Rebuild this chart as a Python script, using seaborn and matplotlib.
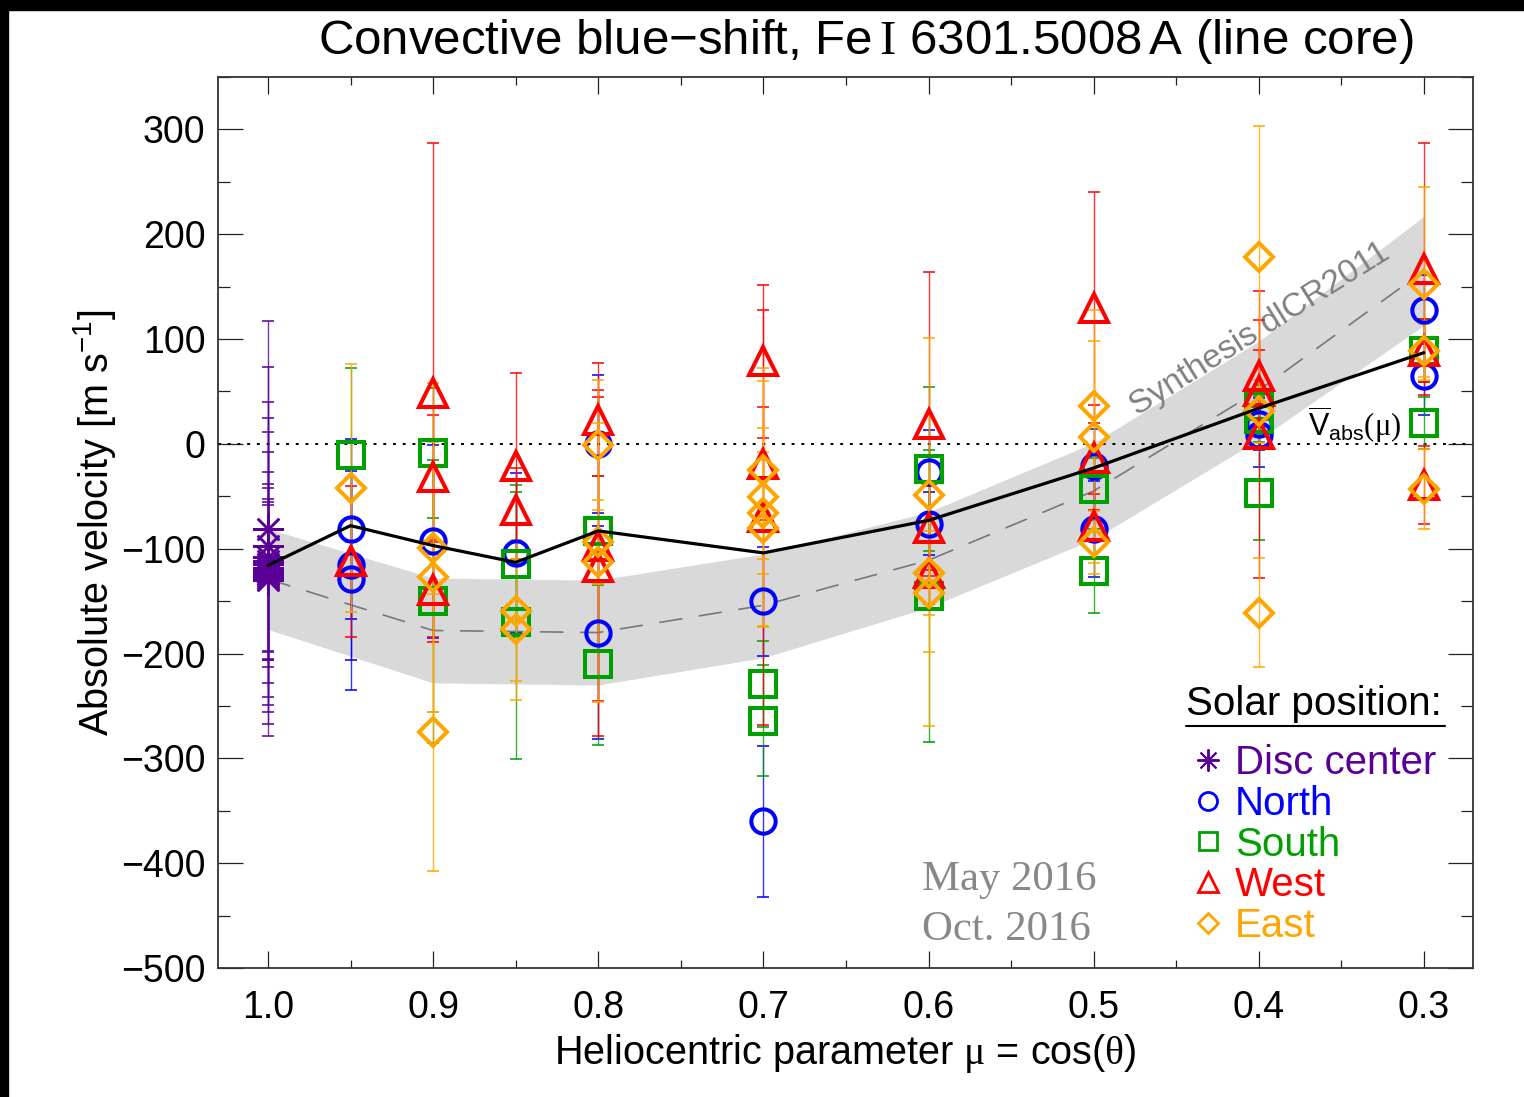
import numpy as np
import pandas as pd
import matplotlib
matplotlib.use("Agg")
import matplotlib.pyplot as plt
import seaborn as sns
from matplotlib.lines import Line2D
from matplotlib.patches import Rectangle
from matplotlib.ticker import MultipleLocator

# ---------------------------------------------------------------------------
# Line-core velocities (m/s) of Fe I 6301.5008 A per heliocentric position
# ---------------------------------------------------------------------------
disc_mu = [1.0] * 12
disc_v = [-81, -97, -108, -112, -115, -118, -120, -122, -124, -126, -128, -130]
disc_err = [198, 170, 148, 137, 126, 110, 93, 84, 82, 73, 70, 75]

north_mu = [0.95, 0.95, 0.95, 0.9, 0.85, 0.8, 0.8, 0.7, 0.7, 0.6, 0.6, 0.5, 0.5, 0.4, 0.4, 0.3, 0.3]
north_v = [-81, -116, -129, -93, -104, 0, -180, -150, -360, -27, -76, -21, -81, 19, 8, 128, 65]
north_err = [86, 90, 106, 92, 76, 66, 102, 52, 72, 40, 30, 35, 46, 25, 30, 33, 37]

south_mu = [0.95, 0.9, 0.9, 0.85, 0.85, 0.8, 0.8, 0.7, 0.7, 0.6, 0.6, 0.5, 0.5, 0.4, 0.4, 0.4, 0.3, 0.3]
south_v = [-11, -9, -150, -115, -170, -83, -210, -229, -264, -24, -145, -43, -121, 36, 24, -47, 89, 20]
south_err = [83, 62, 135, 69, 131, 52, 77, 41, 53, 78, 139, 30, 40, 20, 22, 45, 30, 25]

west_mu = [0.95, 0.9, 0.9, 0.9, 0.85, 0.85, 0.8, 0.8, 0.8, 0.7, 0.7, 0.7,
           0.6, 0.6, 0.6, 0.5, 0.5, 0.5, 0.4, 0.4, 0.4, 0.3, 0.3, 0.3]
west_v = [-112, 49, -32, -139, -21, -63, 23, -97, -117, 79, -19, -70,
          19, -80, -123, 130, -13, -78, 65, 50, 9, 167, 89, -39]
west_err = [72, 238, 60, 45, 89, 40, 54, 148, 162, 73, 54, 198,
            145, 40, 30, 110, 50, 30, 53, 40, 137, 120, 30, 37]

east_mu = [0.95, 0.9, 0.9, 0.9, 0.85, 0.85, 0.8, 0.8, 0.8, 0.7, 0.7, 0.7, 0.7,
           0.6, 0.6, 0.6, 0.5, 0.5, 0.5, 0.4, 0.4, 0.4, 0.3, 0.3, 0.3]
east_v = [-42, -99, -127, -275, -159, -177, -1, -94, -113, -25, -51, -66, -80,
          -49, -123, -142, 36, 7, -94, 178, 31, -161, 153, 89, -43]
east_err = [118, 157, 129, 132, 67, 67, 62, 40, 133, 85, 123, 58, 95,
            150, 40, 127, 62, 121, 30, 125, 30, 52, 92, 25, 38]

# Mean observed curve
mean_mu = [1.0, 0.95, 0.9, 0.85, 0.8, 0.7, 0.6, 0.5, 0.4, 0.3]
mean_v = [-116, -78, -97, -113, -83, -104, -73, -23, 34, 87]

# Synthesis (dlCR2011) with its uncertainty band
syn_mu = [1.0, 0.9, 0.8, 0.7, 0.6, 0.5, 0.4, 0.3]
syn_v = [-129, -178, -180, -154, -111, -45, 51, 165]
syn_lo = [-177, -228, -230, -204, -156, -91, 4, 113]
syn_hi = [-81, -128, -130, -105, -65, 1, 98, 217]

positions = ["Disc center", "North", "South", "West", "East"]
colors = ["#5a0099", "#0000ff", "#00a000", "#ff0000", "#ffa500"]

frames = []
for name, mu, v, e in [("Disc center", disc_mu, disc_v, disc_err),
                       ("North", north_mu, north_v, north_err),
                       ("South", south_mu, south_v, south_err),
                       ("West", west_mu, west_v, west_err),
                       ("East", east_mu, east_v, east_err)]:
    frames.append(pd.DataFrame({"position": name, "mu": mu, "v": v, "err": e}))
obs = pd.concat(frames, ignore_index=True)
mean_df = pd.DataFrame({"mu": mean_mu, "v": mean_v})
syn_df = pd.DataFrame({"mu": syn_mu, "v": syn_v, "lo": syn_lo, "hi": syn_hi})

# ---------------------------------------------------------------------------
sns.set_theme(style="ticks")
plt.rcParams["font.family"] = ["Liberation Sans", "DejaVu Sans"]
plt.rcParams["mathtext.fontset"] = "custom"
plt.rcParams["mathtext.rm"] = "Liberation Sans"
plt.rcParams["mathtext.it"] = "Liberation Sans:italic"
plt.rcParams["mathtext.sf"] = "Liberation Sans"
plt.rcParams["mathtext.tt"] = "Liberation Serif"
for key in ["text.color", "axes.labelcolor", "xtick.color", "ytick.color"]:
    plt.rcParams[key] = "black"

fig = plt.figure(figsize=(15.24, 10.97), dpi=100, facecolor="white")
ax = fig.add_axes([0.1430, 0.1176, 0.8235, 0.8122])
ax.set_facecolor("white")

# synthesis band and its centre line
ax.fill_between(syn_df["mu"], syn_df["lo"], syn_df["hi"], color="#d9d9d9", lw=0, zorder=1)
sns.lineplot(data=syn_df, x="mu", y="v", ax=ax, color="#777777", lw=1.2,
             dashes=False, zorder=2, estimator=None, sort=False)
ax.lines[-1].set_dashes([14, 10])

# zero line
ax.axhline(0, color="black", lw=1.4, ls=(0, (1.5, 3.5)), zorder=2)

marker_style = {
    "Disc center": dict(marker=(8, 2, 0), ms=22, mew=1.8),
    "North": dict(marker="o", ms=17.5, mew=2.9),
    "South": dict(marker="s", ms=18.5, mew=2.9),
    "West": dict(marker="^", ms=20, mew=2.9),
    "East": dict(marker="D", ms=14, mew=2.9),
}

for name, col in zip(positions, colors):
    d = obs[obs["position"] == name]
    ax.errorbar(d["mu"], d["v"], yerr=d["err"], fmt="none", ecolor=col,
                elinewidth=1.0, capsize=4.6, capthick=1.4, alpha=0.8, zorder=3)
for name, col in zip(positions, colors):
    d = obs[obs["position"] == name]
    ax.plot(d["mu"], d["v"], ls="none", mfc="none", mec=col, zorder=4,
            **marker_style[name])

# mean observed curve
sns.lineplot(data=mean_df, x="mu", y="v", ax=ax, color="black", lw=2.3,
             zorder=5, estimator=None, sort=False)

# axes ranges and ticks
ax.set_xlim(1.0303, 0.2703)
ax.set_ylim(-500, 350)
ax.set_xticks([1.0, 0.9, 0.8, 0.7, 0.6, 0.5, 0.4, 0.3])
ax.set_xticklabels(["1.0", "0.9", "0.8", "0.7", "0.6", "0.5", "0.4", "0.3"])
ax.set_yticks(np.arange(-500, 301, 100))
ax.xaxis.set_minor_locator(MultipleLocator(0.05))
ax.yaxis.set_minor_locator(MultipleLocator(50))
ax.tick_params(which="both", direction="in", top=True, right=True, width=0.9, color="#222222")
ax.tick_params(axis="x", which="major", length=12, pad=16, labelsize=27)
ax.tick_params(axis="x", which="minor", length=6)
ax.tick_params(axis="y", which="major", length=18, pad=9, labelsize=27)
ax.tick_params(axis="y", which="minor", length=8.6)
for sp in ax.spines.values():
    sp.set_color("#333333")
    sp.set_linewidth(1.3)

ax.set_xlabel(r"Heliocentric parameter $\mathtt{\mu}$ = cos($\mathtt{\theta}$)", fontsize=28.5, labelpad=4)
ax.set_ylabel(r"Absolute velocity [m s$^{-1}$]", fontsize=28.5, labelpad=2)
fig.text(866 / 1524, 1 - 42 / 1097,
         r"Convective blue$-$shift, Fe$\,\mathtt{I}$ 6301.5008$\,$A (line core)",
         fontsize=35.5, ha="center", va="center")

# annotations
ax.text(0.3993, 109, "Synthesis dlCR2011", color="#808080", fontsize=24,
        rotation=32, ha="center", va="center", rotation_mode="anchor", zorder=2)
ax.text(0.370, 18, r"$\overline{\mathrm{V}}_{\mathrm{abs}}\mathtt{(\mu)}$", fontsize=22,
        ha="left", va="center", zorder=6)
ax.text(0.561, 0.0875, "May 2016", transform=ax.transAxes, color="#888888",
        fontsize=30.8, family="Liberation Serif", va="baseline")
ax.text(0.561, 0.031, "Oct. 2016", transform=ax.transAxes, color="#888888",
        fontsize=30.8, family="Liberation Serif", va="baseline")

# legend
leg_marker = {
    "Disc center": dict(marker=(8, 2, 0), ms=16, mew=1.4),
    "North": dict(marker="o", ms=13, mew=2.0),
    "South": dict(marker="s", ms=13, mew=2.0),
    "West": dict(marker="^", ms=14, mew=2.0),
    "East": dict(marker="D", ms=10, mew=2.0),
}
handles = [Line2D([], [], ls="none", mfc="none", mec=c, **leg_marker[n])
           for n, c in zip(positions, colors)]
leg = ax.legend(handles, positions, title="Solar position:", loc="upper left",
                bbox_to_anchor=(0.771, 0.3175), frameon=False, fontsize=29,
                title_fontsize=29, labelcolor=colors, handlelength=1.1,
                handletextpad=0.12, labelspacing=0.07, borderpad=0,
                borderaxespad=0, alignment="left")
leg._legend_box.sep = 15

# black frame strips on left and top edges
fig.add_artist(Rectangle((0, 0), 8 / 1524, 1, transform=fig.transFigure,
                         color="black", zorder=10))
fig.add_artist(Rectangle((0, 1 - 10 / 1097), 1, 10 / 1097, transform=fig.transFigure,
                         color="black", zorder=10))

# underline for the legend title
fig.canvas.draw()
tb = leg.get_title().get_window_extent()
inv = fig.transFigure.inverted()
(x0, y0), (x1, _) = inv.transform([(tb.x0, tb.y0 - 3), (tb.x1 + 4, tb.y0)])
fig.add_artist(Line2D([x0, x1], [y0, y0], transform=fig.transFigure, color="black", lw=1.5))

fig.savefig("out.png", dpi=100, facecolor="white")
